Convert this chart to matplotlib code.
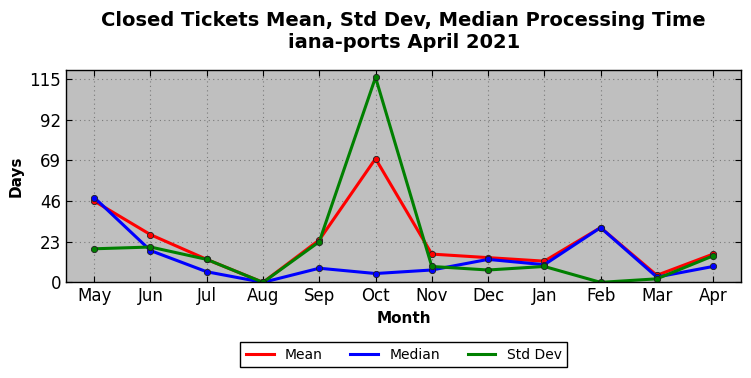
import matplotlib
matplotlib.use('Agg')
import matplotlib.pyplot as plt

months = ['May', 'Jun', 'Jul', 'Aug', 'Sep', 'Oct', 'Nov', 'Dec', 'Jan', 'Feb', 'Mar', 'Apr']
mean_days = [46, 27, 13, 0, 24, 70, 16, 14, 12, 31, 4, 16]
median_days = [48, 18, 6, 0, 8, 5, 7, 13, 10, 31, 3, 9]
std_days = [19, 20, 13, 0, 23, 116, 9, 7, 9, 0, 2, 15]
yticks = [0, 23, 46, 69, 92, 115]

fig = plt.figure(figsize=(7.51, 3.78), dpi=100)
ax = fig.add_axes([0.088, 0.253, 0.899, 0.561])
ax.set_facecolor('#bfbfbf')

x = list(range(len(months)))
series = [(mean_days, 'red', 'Mean'), (median_days, 'blue', 'Median'), (std_days, 'green', 'Std Dev')]
for vals, col, lab in series:
    ax.plot(x, vals, color=col, lw=2.2, label=lab)
    ax.plot(x, vals, color=col, lw=0, marker='o', markersize=4.5,
            markeredgecolor='#202020', markeredgewidth=0.6)

ax.set_xlim(-0.5, 11.5)
ax.set_ylim(0, 120)
ax.set_xticks(x)
ax.set_xticklabels(months, fontsize=12)
ax.set_yticks(yticks)
ax.set_yticklabels([str(t) for t in yticks], fontsize=12)
ax.tick_params(direction='in', top=True, right=True, length=4)
ax.grid(True, linestyle=(0, (1, 3)), color='#7a7a7a', linewidth=0.8)
for s in ax.spines.values():
    s.set_linewidth(1.0)

ax.set_xlabel('Month', fontsize=11, fontweight='bold')
ax.set_ylabel('Days', fontsize=11, fontweight='bold')
ax.set_title('Closed Tickets Mean, Std Dev, Median Processing Time\niana-ports April 2021',
             fontsize=14, fontweight='bold', pad=16)

leg = ax.legend(loc='upper center', bbox_to_anchor=(0.5, -0.25), ncol=3, fontsize=10,
                fancybox=False, edgecolor='black', framealpha=1, columnspacing=2.0,
                handlelength=2, borderpad=0.4)
leg.get_frame().set_linewidth(1.0)

fig.savefig('out.png', dpi=100)
